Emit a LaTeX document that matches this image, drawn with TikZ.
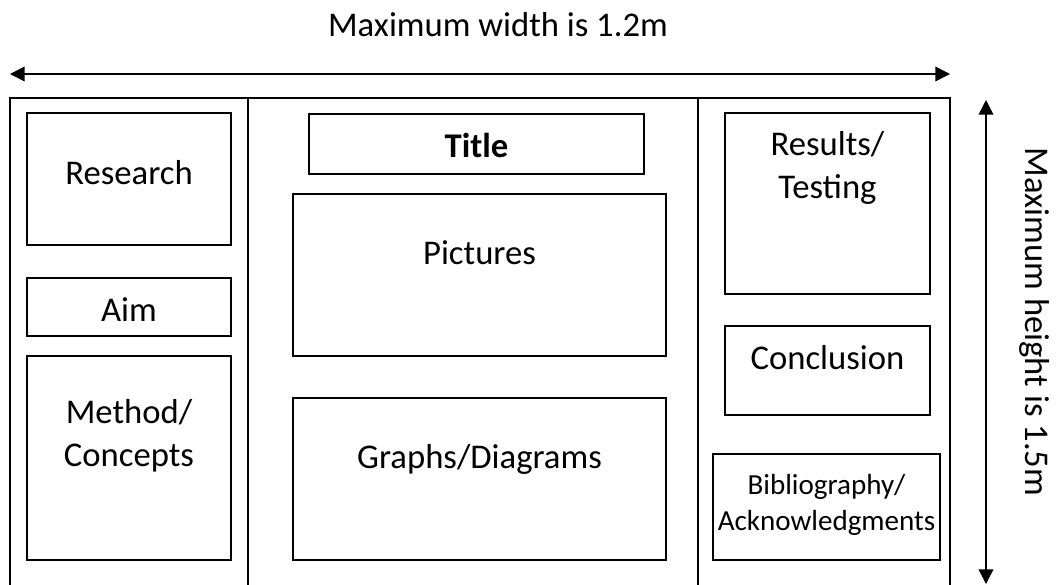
\documentclass[tikz,border=0pt]{standalone}
\usepackage{fontspec}
\setmainfont{Carlito}
\usetikzlibrary{arrows.meta,positioning}

\begin{document}
\begin{tikzpicture}[x=0.75pt, y=-0.75pt, >={Triangle[length=11pt,width=11pt]}, line width=1.1pt,
  panel/.style={draw, line width=1.5pt, anchor=north west, inner sep=0pt, align=center, font=\fontsize{26}{31.7}\selectfont},
  dim/.style={font=\fontsize{26}{31.7}\selectfont, inner sep=0pt, anchor=base}]

\useasboundingbox (0,0) rectangle (1057,585);

\draw (10,592) -- (10,98) -- (950,98) -- (950,592);
\foreach \x in {248,698}{\draw (\x,98) -- (\x,592);}

\node[panel, minimum width=153pt, text height=53.25pt, text depth=45.75pt] (research) at (26,112) {Research};
\node[panel, minimum width=153pt, text height=32.25pt, text depth=11.25pt] (aim) at (26,277) {Aim};
\node[panel, minimum width=153pt, text height=82.5pt, text depth=70.5pt] (method) at (26,355) {Method/\\Concepts};

\node[panel, minimum width=251.25pt, text height=32.25pt, text depth=12.75pt, font=\fontsize{26}{31.7}\selectfont\bfseries] (title) at (308,113) {Title};
\node[panel, minimum width=279.75pt, text height=52.5pt, text depth=69pt] (pictures) at (292,193) {Pictures};
\node[panel, minimum width=279.75pt, text height=52.5pt, text depth=69pt] (graphs) at (292,397) {Graphs/Diagrams};

\node[panel, minimum width=153.75pt, text height=63.75pt, text depth=72pt] (results) at (724,112) {Results/\\Testing};
\node[panel, minimum width=153.75pt, text height=32.25pt, text depth=34.5pt] (conclusion) at (724,325) {Conclusion};
\node[panel, minimum width=170.25pt, text height=57pt, text depth=22.5pt, font=\fontsize{21.8}{27}\selectfont] (biblio) at (712,453) {Bibliography/\\Acknowledgments};

\coordinate (wl) at (10,74);
\coordinate (wr) at (950,74);
\coordinate (ht) at (986,100);
\coordinate (hb) at (986,584);
\draw[<->] (wl) -- (wr);
\draw[<->] (ht) -- (hb);

\node[dim] (wtext) at (498,37) {Maximum width is 1.2m};
\node[dim, rotate=-90] (htext) at (1025,322) {Maximum height is 1.5m};
\end{tikzpicture}
\end{document}
